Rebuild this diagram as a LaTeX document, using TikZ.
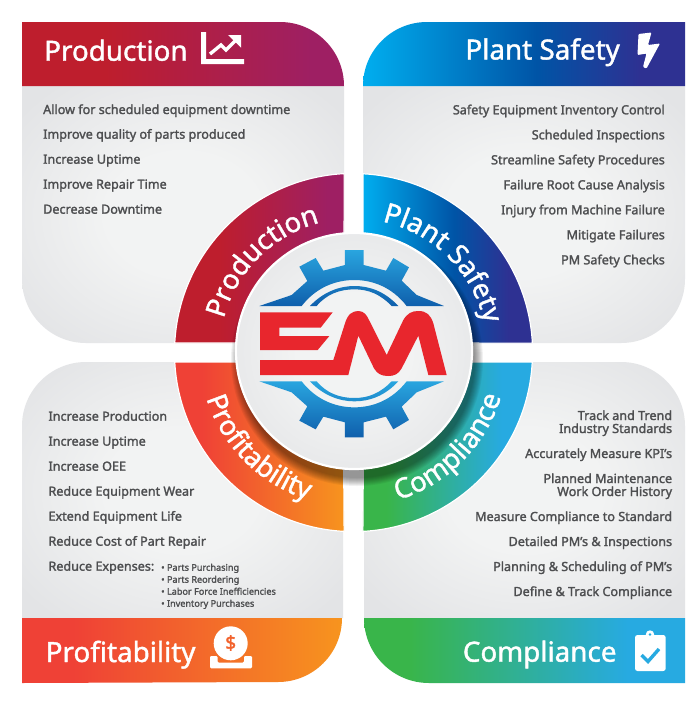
\documentclass[tikz,border=0pt]{standalone}
\usepackage{fontspec}
\setmainfont{Noto Sans}
\newfontfamily\bodyfont{Noto Sans}[FakeBold=1.8]
\newfontfamily\headfont{Noto Sans}[FakeBold=1.4]
\usetikzlibrary{decorations.text,calc}
\definecolor{txt}{HTML}{4D4E50}
\definecolor{pa}{HTML}{BE1E2D}\definecolor{pb}{HTML}{9E1F63}
\definecolor{sa}{HTML}{00AEEF}\definecolor{sb}{HTML}{0054A6}\definecolor{sc}{HTML}{2E3192}
\definecolor{fa}{HTML}{EF4136}\definecolor{fb}{HTML}{F7941E}
\definecolor{ca}{HTML}{39B54A}\definecolor{cb}{HTML}{27AAE1}
\definecolor{gl}{HTML}{F2F3F3}\definecolor{gd}{HTML}{E3E4E6}
\definecolor{emred}{HTML}{E8262D}
\definecolor{gearl}{HTML}{29A5DF}\definecolor{geard}{HTML}{0F5FAC}
\pgfdeclarehorizontalshading{prodsh}{100bp}{color(0bp)=(pa);color(38bp)=(pa);color(70bp)=(pb);color(100bp)=(pb)}
\pgfdeclarehorizontalshading{safesh}{100bp}{color(0bp)=(sa);color(25bp)=(sa);color(52bp)=(sb);color(68bp)=(sc);color(100bp)=(sc)}
\pgfdeclarehorizontalshading{profsh}{100bp}{color(0bp)=(fa);color(33bp)=(fa);color(75bp)=(fb);color(100bp)=(fb)}
\pgfdeclarehorizontalshading{compsh}{100bp}{color(0bp)=(ca);color(32bp)=(ca);color(66bp)=(cb);color(100bp)=(cb)}
\pgfdeclareradialshading{panelsh}{\pgfpoint{0bp}{0bp}}{color(0bp)=(gl);color(12bp)=(gl);color(32bp)=(gd);color(50bp)=(gd)}
\pgfdeclareverticalshading{gearsh}{100bp}{color(0bp)=(geard);color(25bp)=(geard);color(75bp)=(gearl);color(100bp)=(gearl)}
\tikzset{
  body/.style={font=\bodyfont\fontsize{12.6}{14}\selectfont,text=txt,inner sep=0pt},
  bodyl/.style={body,anchor=base west},
  bodyr/.style={body,anchor=base east},
  subl/.style={font=\bodyfont\fontsize{9.1}{11}\selectfont,text=txt,inner sep=0pt,anchor=base west},
  head/.style={font=\headfont\fontsize{27.8}{30}\selectfont,text=white,inner sep=0pt},
  arcedge/.style={draw=white,line width=1.2pt},
  ringtext/.style={decorate,decoration={text along path,text color=white,text align=center,
      text={|\headfont\fontsize{27.5}{30}\selectfont|#1}}},
}
\newcommand{\gearshape}{(268,408) -- (365,375) -- (412,333) -- (388,290) -- (437,264) -- (460,302) -- (525,285) -- (525,240) -- (581,240) -- (581,285) -- (648,302) -- (670,264) -- (717,292) -- (695,332) -- (740,375) -- (822,408) -- (710,408) .. controls (665,350) and (606,330) .. (553,330) .. controls (500,330) and (440,350) .. (395,408) -- cycle
 (420,408) .. controls (460,365) and (510,348) .. (553,348) .. controls (600,348) and (645,365) .. (685,408) -- (665,408) .. controls (630,372) and (595,358) .. (553,358) .. controls (510,358) and (470,372) .. (440,408) -- cycle}
\begin{document}
\begin{tikzpicture}[x=1pt,y=-1pt]
\useasboundingbox (0,0) rectangle (700,716);
\fill[white] (0,0) rectangle (700,716);
% panels
\path[shading=panelsh] (22,86) -- (344,86) -- (344,343) -- (86,343) arc[start angle=90,end angle=180,radius=64] -- cycle;
\path[shading=panelsh] (363,86) -- (685,86) -- (685,279) arc[start angle=0,end angle=90,radius=64] -- (363,343) -- cycle;
\path[shading=panelsh] (22,618) -- (343,618) -- (343,362) -- (86,362) arc[start angle=270,end angle=180,radius=64] -- cycle;
\path[shading=panelsh] (364,618) -- (685,618) -- (685,426) arc[start angle=0,end angle=-90,radius=64] -- (364,362) -- cycle;
% headers
\path[shading=prodsh] (22,22) -- (280,22) arc[start angle=270,end angle=360,radius=64] -- (22,86) -- cycle;
\path[shading=safesh] (685,22) -- (427,22) arc[start angle=270,end angle=180,radius=64] -- (685,86) -- cycle;
\path[shading=profsh] (22,618) -- (342,618) arc[start angle=0,end angle=90,radius=64] -- (22,683) -- cycle;
\path[shading=compsh] (685,618) -- (364,618) arc[start angle=180,end angle=90,radius=65] -- (685,683) -- cycle;
% ring
\coordinate (cen) at (353.5,352.5);
\path[shading=prodsh,arcedge] (344,343) -- ($(cen)+(-178.75,-9.5)$) arc[start angle=183,end angle=267,radius=179] -- cycle;
\path[shading=safesh,arcedge] (363,343) -- ($(cen)+(9.5,-178.75)$) arc[start angle=273,end angle=357,radius=179] -- cycle;
\path[shading=profsh,arcedge] (343,362) -- ($(cen)+(-178.75,9.5)$) arc[start angle=177,end angle=93,radius=179] -- cycle;
\path[shading=compsh,arcedge] (364,362) -- ($(cen)+(178.75,9.5)$) arc[start angle=3,end angle=87,radius=179] -- cycle;
% soft shadow
\foreach \r in {118,119,...,126}{\fill[black,opacity=.055] (357,360) circle[radius=\r];}
% centre disc
\path[shading=panelsh,draw=white,line width=2.2pt] (354,351) circle[radius=118];
% ring labels
\path[ringtext=Production] ($(cen)+(-134,0)$) arc[start angle=180,end angle=270,radius=134];
\path[ringtext=Plant Safety] ($(cen)+(0,-134)$) arc[start angle=270,end angle=360,radius=134];
\path[ringtext=Profitability] ($(cen)+(-154,0)$) arc[start angle=180,end angle=90,radius=154];
\path[ringtext=Compliance] ($(cen)+(0,154)$) arc[start angle=90,end angle=0,radius=154];
% logo
\begin{scope}[shift={(170,170)},x=0.33333pt,y=-0.33333pt]
  \path[shading=gearsh,even odd rule] \gearshape;
  \begin{scope}[shift={(0,1042)},yscale=-1]
    \path[shading=gearsh,even odd rule] \gearshape;
  \end{scope}
  \fill[emred] (270,427) -- (488,427) -- (452,473) -- (328,473) -- (328,498) -- (478,498) -- (443,540) -- (270,540) -- cycle;
  \fill[emred] (270,570) -- (490,570) -- (525,460) .. controls (533,432) and (548,423) .. (565,423) .. controls (582,423) and (590,435) .. (597,450) -- (650,555) -- (700,450) .. controls (712,430) and (725,423) .. (745,423) .. controls (770,423) and (782,435) .. (790,460) -- (830,615) -- (775,615) -- (745,497) -- (695,595) .. controls (685,613) and (672,618) .. (655,618) .. controls (635,618) and (622,612) .. (612,595) -- (565,497) -- (535,615) -- (270,615) -- cycle;
\end{scope}
% header titles
\node[head,anchor=base west] (t1) at (44,60.7) {Production};
\node[head,anchor=base east] (t2) at (620,59.5) {Plant Safety};
\node[head,anchor=base west] (t3) at (45.5,662) {Profitability};
\node[head,anchor=base east] (t4) at (616.7,661.7) {Compliance};
% chart icon
\fill[white] (201,32) -- (206,32) -- (206,59) -- (244,59) -- (244,64) -- (201,64) -- cycle;
\draw[white,line width=3.4pt,line join=miter] (210,54) -- (221,45) -- (226,50) -- (237,39);
\fill[white] (228,35) -- (241,35) -- (241,47.5) -- cycle;
% bolt icon
\fill[white,rounded corners=1pt] (638.5,34) -- (651.5,32.5) -- (648,45) -- (660,43.5) -- (646.5,68.5) -- (643,67) -- (646.5,53.5) -- (637.5,55) -- cycle;
% coin icon
\fill[white] (230.7,643.3) circle[radius=17];
\node[inner sep=0pt,text=fa!60!fb,font=\bodyfont\fontsize{19}{20}\selectfont] (coin) at (230.7,643) {\$};
\fill[white,rounded corners=1.2pt] (210,656) -- (217.5,656) -- (217.5,662.5) -- (244,662.5) -- (244,656) -- (252,656) -- (252,668.3) -- (210,668.3) -- cycle;
% clipboard icon
\fill[white,rounded corners=2.5pt] (635,635) rectangle (665.7,671);
\fill[white] (650,634.5) circle[radius=4.2];
\fill[cb] (650,634.5) circle[radius=1.4];
\draw[cb,line width=3.4pt] (641.5,655) -- (648,661.5) -- (659,649);
% Production list
\node[bodyl] (a1) at (43,114) {Allow for scheduled equipment downtime};
\node[bodyl] (a2) at (43,138.7) {Improve quality of parts produced};
\node[bodyl] (a3) at (43,163.7) {Increase Uptime};
\node[bodyl] (a4) at (43,188.7) {Improve Repair Time};
\node[bodyl] (a5) at (43,213.7) {Decrease Downtime};
% Safety list
\node[bodyr] (b1) at (665,114.3) {Safety Equipment Inventory Control};
\node[bodyr] (b2) at (665,139.3) {Scheduled Inspections};
\node[bodyr] (b3) at (665,164.3) {Streamline Safety Procedures};
\node[bodyr] (b4) at (665,189.3) {Failure Root Cause Analysis};
\node[bodyr] (b5) at (665,214.3) {Injury from Machine Failure};
\node[bodyr] (b6) at (665,239.3) {Mitigate Failures};
\node[bodyr] (b7) at (665,264.3) {PM Safety Checks};
% Profitability list
\node[bodyl] (c1) at (48.3,420.7) {Increase Production};
\node[bodyl] (c2) at (48.3,445.7) {Increase Uptime};
\node[bodyl] (c3) at (48.3,470.7) {Increase OEE};
\node[bodyl] (c4) at (48.3,495.7) {Reduce Equipment Wear};
\node[bodyl] (c5) at (48.3,520.7) {Extend Equipment Life};
\node[bodyl] (c6) at (48.3,545.7) {Reduce Cost of Part Repair};
\node[bodyl] (c7) at (48.3,570.7) {Reduce Expenses:};
\node[subl] (d1) at (161,570.7) {• Parts Purchasing};
\node[subl] (d2) at (161,582.7) {• Parts Reordering};
\node[subl] (d3) at (161,594.7) {• Labor Force Inefficiencies};
\node[subl] (d4) at (161,606.7) {• Inventory Purchases};
% Compliance list
\node[bodyr] (e1) at (672.3,420) {Track and Trend};
\node[bodyr] (e2) at (672.3,433) {Industry Standards};
\node[bodyr] (e3) at (672.3,458) {Accurately Measure KPI’s};
\node[bodyr] (e4) at (672.3,483) {Planned Maintenance};
\node[bodyr] (e5) at (672.3,496) {Work Order History};
\node[bodyr] (e6) at (672.3,521) {Measure Compliance to Standard};
\node[bodyr] (e7) at (672.3,546) {Detailed PM’s \& Inspections};
\node[bodyr] (e8) at (672.3,571) {Planning \& Scheduling of PM’s};
\node[bodyr] (e9) at (672.3,596) {Define \& Track Compliance};
\end{tikzpicture}
\end{document}
